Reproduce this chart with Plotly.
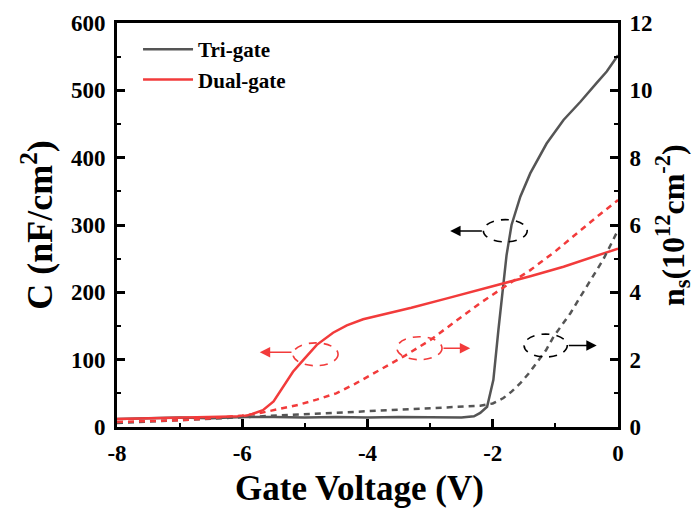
import plotly.graph_objects as go

# ---- data ----
tri_c_v = [-8, -7.5, -7, -6.5, -6, -5.5, -5, -4.5, -4, -3.5, -3, -2.5, -2.3, -2.2, -2.09,
           -1.99, -1.91, -1.84, -1.78, -1.70, -1.56, -1.40, -1.14, -0.87, -0.60, -0.34, -0.18, 0]
tri_c = [12, 13, 14, 13, 15, 15, 14, 15, 14, 15, 14, 14, 16, 21, 30,
         70, 144, 208, 255, 300, 342, 377, 421, 456, 483, 511, 528, 552]

tri_n_v = [-8, -7.5, -7, -6.5, -6, -5.5, -5, -4.5, -4, -3.5, -3, -2.5, -2.2, -2.0, -1.83,
           -1.7, -1.56, -1.43, -1.3, -1.15, -1.03, -0.9, -0.76, -0.63, -0.5, -0.37, -0.24, -0.12, 0]
tri_n = [0.12, 0.16, 0.2, 0.24, 0.28, 0.33, 0.38, 0.42, 0.47, 0.52, 0.56, 0.6, 0.63, 0.7, 0.86,
         1.05, 1.3, 1.58, 1.9, 2.28, 2.68, 3.03, 3.38, 3.78, 4.17, 4.57, 4.96, 5.4, 5.85]

dual_c_v = [-8, -7.5, -7, -6.5, -6.2, -6.0, -5.88, -5.67, -5.5, -5.35, -5.19, -5.02, -4.81,
            -4.55, -4.33, -4.07, -3.8, -3.3, -2.73, -2.2, -1.83, -1.4, -0.87, -0.4, 0]
dual_c = [12, 13, 13, 14, 15, 16, 18, 25, 38, 60, 82, 100, 122,
          140, 151, 160, 166, 177, 191, 204, 214, 224, 238, 252, 265]

dual_n_v = [-8, -7.5, -7, -6.5, -6, -5.7, -5.4, -5.1, -4.8, -4.5, -4.2, -3.8, -3.4, -3.0,
            -2.6, -2.2, -1.8, -1.4, -1.0, -0.6, -0.3, 0]
dual_n = [0.15, 0.17, 0.2, 0.26, 0.34, 0.42, 0.54, 0.66, 0.82, 1.0, 1.28, 1.69, 2.12, 2.58,
          3.13, 3.68, 4.18, 4.66, 5.22, 5.85, 6.3, 6.74]

x_ticks = [-8, -6, -4, -2, 0]
x_tick_labels = ["-8", "-6", "-4", "-2", "0"]
c_ticks = [0, 100, 200, 300, 400, 500, 600]
n_ticks = [0, 2, 4, 6, 8, 10, 12]

GRAY = "#555555"
RED = "#f23b3b"
FONT = "Liberation Serif"

fig = go.Figure()
fig.add_trace(go.Scatter(x=tri_c_v, y=tri_c, mode="lines", name="<b>Tri-gate</b>",
                         line=dict(color=GRAY, width=2.5)))
fig.add_trace(go.Scatter(x=dual_c_v, y=dual_c, mode="lines", name="<b>Dual-gate</b>",
                         line=dict(color=RED, width=2.5)))
fig.add_trace(go.Scatter(x=tri_n_v, y=tri_n, mode="lines", yaxis="y2", showlegend=False,
                         line=dict(color=GRAY, width=2.5, dash="6px,5px")))
fig.add_trace(go.Scatter(x=dual_n_v, y=dual_n, mode="lines", yaxis="y2", showlegend=False,
                         line=dict(color=RED, width=2.5, dash="6px,5px")))

tickfont = dict(family=FONT, size=23, color="black", weight="bold")
common = dict(showline=True, linecolor="black", linewidth=3, ticks="inside", ticklen=8,
              tickwidth=2.5, tickcolor="black", showgrid=False, zeroline=False,
              tickfont=tickfont)

fig.update_layout(
    width=700, height=509,
    margin=dict(l=117, r=82, t=23, b=82),
    plot_bgcolor="white", paper_bgcolor="white",
    xaxis=dict(range=[-8, 0], tickvals=x_ticks, ticktext=x_tick_labels, mirror=True,
               minor=dict(ticks="inside", ticklen=4, dtick=1, tickwidth=2, tickcolor="black"),
               ticklabelstandoff=3, **common),
    yaxis=dict(range=[0, 600], tickvals=c_ticks,
               minor=dict(ticks="inside", ticklen=4, dtick=50, tickwidth=2, tickcolor="black"),
               ticklabelstandoff=4, **common),
    yaxis2=dict(range=[0, 12], tickvals=n_ticks, overlaying="y", side="right",
                minor=dict(ticks="inside", ticklen=4, dtick=1, tickwidth=2, tickcolor="black"),
                ticklabelstandoff=4, **common),
    legend=dict(x=0.042, y=0.985, xanchor="left", yanchor="top", bgcolor="rgba(0,0,0,0)",
                font=dict(family=FONT, size=21, color="black"), itemwidth=50,
                tracegroupgap=0),
    showlegend=True,
)

# axis titles
fig.add_annotation(text="<b>Gate Voltage (V)</b>", xref="paper", yref="paper",
                   x=0.484, y=-0.152, xanchor="center", yanchor="middle", showarrow=False,
                   font=dict(family=FONT, size=35, color="black"))
fig.add_annotation(text="<b>C (nF/cm<sup>2</sup>)</b>", xref="paper", yref="paper",
                   x=-0.16, y=0.5, xanchor="center", yanchor="middle", showarrow=False,
                   textangle=-90, font=dict(family=FONT, size=36, color="black"))
fig.add_annotation(text="<b>n<sub>s</sub>(10<sup>12</sup>cm<sup>-2</sup>)</b>", xref="paper",
                   yref="paper", x=1.108, y=0.5, xanchor="center", yanchor="middle",
                   showarrow=False, textangle=-90,
                   font=dict(family=FONT, size=32, color="black"))

# dashed ellipses marking the curves
ellipses = [
    (-2.15, 275, -1.45, 308, "black"),
    (-1.50, 104, -0.81, 138, "black"),
    (-3.53, 100, -2.81, 134, RED),
    (-5.19, 91, -4.47, 125, RED),
]
for x0, y0, x1, y1, c in ellipses:
    fig.add_shape(type="circle", xref="x", yref="y", x0=x0, y0=y0, x1=x1, y1=y1,
                  line=dict(color=c, width=1.6, dash="8px,7px"))

# arrows (tail -> head)
arrows = [
    (-2.15, 291, -2.68, 291, "black"),
    (-0.81, 121, -0.34, 121, "black"),
    (-2.81, 117, -2.36, 117, RED),
    (-5.19, 111, -5.72, 111, RED),
]
for ax, ay, x, y, c in arrows:
    fig.add_annotation(x=x, y=y, ax=ax, ay=ay, xref="x", yref="y", axref="x", ayref="y",
                       text="", showarrow=True, arrowhead=2, arrowsize=1.3, arrowwidth=1.6,
                       arrowcolor=c, standoff=0, startstandoff=0)

fig.write_html("out.html")
